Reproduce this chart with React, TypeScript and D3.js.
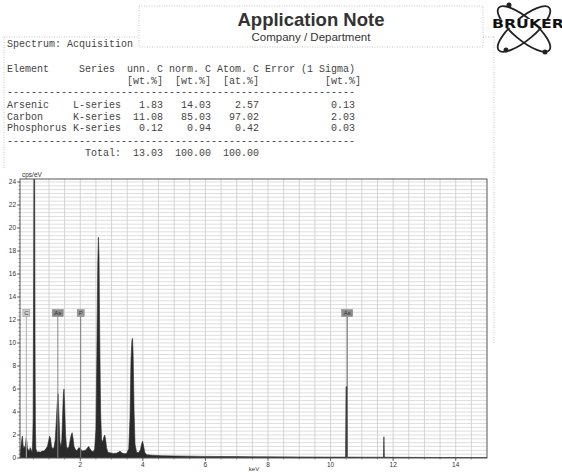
import React from "react";
import * as d3 from "d3";

// ---------- Data ----------
const titleText = "Application Note";
const subtitleText = "Company / Department";
const spectrumName = "Spectrum: Acquisition";

const elements = ["Arsenic", "Carbon", "Phosphorus"];
const seriesNames = ["L-series", "K-series", "K-series"];
const unnC = ["1.83", "11.08", "0.12"];
const normC = ["14.03", "85.03", "0.94"];
const atomC = ["2.57", "97.02", "0.42"];
const errSigma = ["0.13", "2.03", "0.03"];
const totals = ["13.03", "100.00", "100.00"];

// spectrum: [keV, cps/eV]
const spectrum: [number, number][] = [
  [0.07, 0.3], [0.1, 0.9], [0.13, 1.6], [0.15, 1.9], [0.17, 1.2], [0.19, 0.8],
  [0.21, 1.0], [0.23, 0.8], [0.25, 1.2], [0.27, 1.7], [0.29, 1.5], [0.31, 0.9],
  [0.34, 0.7], [0.37, 0.6], [0.4, 0.9], [0.43, 0.7], [0.46, 0.5], [0.48, 1.5],
  [0.495, 3.5], [0.505, 12], [0.512, 17], [0.52, 25], [0.54, 25], [0.548, 17],
  [0.556, 8], [0.566, 2.5], [0.58, 0.8], [0.62, 0.5], [0.67, 0.55], [0.72, 0.5],
  [0.78, 0.6], [0.84, 0.6], [0.9, 0.8], [0.95, 1.0], [0.99, 1.5], [1.02, 1.9],
  [1.05, 1.7], [1.08, 1.0], [1.12, 0.8], [1.16, 0.9], [1.2, 1.6], [1.23, 3.0],
  [1.26, 4.6], [1.29, 5.6], [1.32, 3.6], [1.35, 1.4], [1.38, 1.0], [1.41, 1.6],
  [1.44, 4.0], [1.46, 5.6], [1.48, 6.0], [1.5, 4.6], [1.53, 2.0], [1.56, 1.0],
  [1.6, 0.8], [1.64, 1.0], [1.68, 1.6], [1.71, 2.0], [1.74, 2.2], [1.77, 1.7],
  [1.8, 1.0], [1.85, 0.7], [1.9, 0.65], [1.95, 0.9], [1.99, 0.85], [2.03, 0.7],
  [2.08, 0.6], [2.13, 0.65], [2.18, 0.7], [2.23, 0.9], [2.27, 1.0], [2.31, 0.8],
  [2.36, 0.6], [2.42, 0.55], [2.46, 0.8], [2.5, 2.5], [2.53, 9], [2.56, 17],
  [2.58, 19.2], [2.6, 17.5], [2.62, 11], [2.65, 4], [2.68, 1.6], [2.72, 1.4],
  [2.75, 1.8], [2.78, 2.0], [2.81, 1.6], [2.84, 0.9], [2.88, 0.5], [2.95, 0.45],
  [3.05, 0.4], [3.15, 0.42], [3.22, 0.5], [3.27, 0.6], [3.32, 0.45], [3.4, 0.38],
  [3.48, 0.4], [3.55, 0.8], [3.59, 3.5], [3.62, 8.5], [3.65, 10.2], [3.67, 10.4],
  [3.69, 9], [3.72, 4], [3.75, 1.2], [3.8, 0.5], [3.86, 0.45], [3.92, 0.7],
  [3.96, 1.2], [3.99, 1.45], [4.02, 1.1], [4.06, 0.5], [4.12, 0.28], [4.3, 0.24],
  [4.6, 0.2], [5.0, 0.18], [5.5, 0.16], [6.0, 0.14], [6.5, 0.13], [7.0, 0.12],
  [7.5, 0.11], [8.0, 0.1], [9.0, 0.09], [10.0, 0.08], [10.48, 0.08], [10.495, 6.2],
  [10.525, 6.2], [10.54, 0.08], [11.0, 0.07], [11.69, 0.07], [11.705, 1.85],
  [11.72, 0.07], [12.0, 0.06], [13.0, 0.05], [14.0, 0.04], [15.0, 0.03],
];

const markerLabels = ["C", "As", "P", "As"];
const markerEnergies = [0.277, 1.282, 2.013, 10.532];
const markerLineColors = ["#b0b0b0", "#8a8a8a", "#7a7a7a", "#6a6a6a"];
const markerBoxColors = ["#cfcfcf", "#8c8c8c", "#9a9a9a", "#8c8c8c"];

const xTickValues = [2, 4, 6, 8, 10, 12, 14];
const yTickValues = [0, 2, 4, 6, 8, 10, 12, 14, 16, 18, 20, 22, 24];

// ---------- Layout ----------
const W = 562;
const H = 472;
const plotL = 20;
const plotR = 487;
const plotT = 179;
const plotB = 458;

export default function App() {
  const x = d3.scaleLinear().domain([0, 15]).range([17.7, 487]);
  const y = d3.scaleLinear().domain([0, 24.26]).range([plotB, plotT]);

  const area = d3
    .area<[number, number]>()
    .x((d) => x(d[0]))
    .y0(y(0))
    .y1((d) => y(d[1]));

  const vGrid = d3.range(0.5, 15, 0.5);
  const hGrid = d3.range(1, 73).map((i) => (i * 1) / 3);

  const mono = "'Liberation Mono', 'DejaVu Sans Mono', monospace";
  const sans = "'Liberation Sans', Arial, sans-serif";

  const tableLines: { text: string; y: number }[] = [];
  tableLines.push({ text: spectrumName, y: 47 });
  tableLines.push({
    text: "Element     Series  unn. C norm. C Atom. C Error (1 Sigma)",
    y: 72,
  });
  tableLines.push({
    text: "                    [wt.%]  [wt.%]  [at.%]           [wt.%]",
    y: 83.5,
  });
  tableLines.push({ text: "-".repeat(58), y: 94.5 });
  const rowYs = [108, 119.5, 131];
  elements.forEach((el, i) => {
    tableLines.push({
      text:
        el.padEnd(11) +
        seriesNames[i] +
        unnC[i].padStart(7) +
        normC[i].padStart(8) +
        atomC[i].padStart(8) +
        errSigma[i].padStart(16),
      y: rowYs[i],
    });
  });
  tableLines.push({ text: "-".repeat(58), y: 143.5 });
  tableLines.push({
    text:
      " ".repeat(13) +
      "Total:" +
      totals[0].padStart(7) +
      totals[1].padStart(8) +
      totals[2].padStart(8),
    y: 156,
  });

  const dot = { stroke: "#b5b5b5", strokeWidth: 0.8, strokeDasharray: "1,1.5", fill: "none" };

  return (
    <svg
      width={W}
      height={H}
      style={{ position: "absolute", left: 0, top: 0, background: "#fff" }}
    >
      <rect x={0} y={0} width={W} height={H} fill="#fff" />
      {/* outer dotted page box */}
      <line x1={4} y1={37} x2={139} y2={37} {...dot} />
      <line x1={483} y1={37} x2={494} y2={37} {...dot} />
      <line x1={4} y1={37} x2={4} y2={168} {...dot} />
      <line x1={494} y1={37} x2={494} y2={343} {...dot} />

      {/* header box */}
      <rect x={139} y={6} width={344} height={41} fill="#fff" {...dot} />
      <text
        x={311}
        y={26}
        textAnchor="middle"
        fontFamily={sans}
        fontWeight="bold"
        fontSize={18.5}
        fill="#333"
      >
        {titleText}
      </text>
      <text
        x={311}
        y={41}
        textAnchor="middle"
        fontFamily={sans}
        fontSize={11.5}
        fill="#333"
      >
        {subtitleText}
      </text>

      {/* logo */}
      <g fill="none" stroke="#222" strokeWidth={1.8}>
        <ellipse cx={524} cy={29} rx={33} ry={11} transform="rotate(40 524 29)" />
        <ellipse cx={524} cy={29} rx={33} ry={11} transform="rotate(-40 524 29)" />
      </g>
      <g fill="#222">
        <circle cx={509} cy={5} r={2.5} />
        <circle cx={506} cy={50} r={2.5} />
        <circle cx={545} cy={52} r={2.5} />
      </g>
      <rect x={492} y={19} width={70} height={9} fill="#fff" />
      <text
        x={492}
        y={27.5}
        fontFamily="'DejaVu Sans', sans-serif"
        fontWeight="bold"
        fontSize={11.5}
        fill="#111"
        textLength={72}
        lengthAdjust="spacingAndGlyphs"
      >
        BRUKER
      </text>

      {/* table text */}
      {tableLines.map((l, i) => (
        <text
          key={i}
          x={7}
          y={l.y}
          fontFamily={mono}
          fontSize={10}
          fill="#444"
          style={{ whiteSpace: "pre" }}
        >
          {l.text}
        </text>
      ))}

      {/* plot */}
      <defs>
        <clipPath id="plotclip">
          <rect x={plotL} y={plotT} width={plotR - plotL} height={plotB - plotT} />
        </clipPath>
      </defs>
      <g>
        {hGrid.map((v, i) => (
          <line
            key={"h" + i}
            x1={plotL}
            x2={plotR}
            y1={y(v)}
            y2={y(v)}
            stroke="#d6d6d6"
            strokeWidth={0.8}
          />
        ))}
        {vGrid.map((v, i) => (
          <line
            key={"v" + i}
            x1={x(v)}
            x2={x(v)}
            y1={plotT}
            y2={plotB}
            stroke="#cfcfcf"
            strokeWidth={0.9}
          />
        ))}
      </g>

      <g clipPath="url(#plotclip)">
        <path d={area(spectrum) || ""} fill="#2a2a2a" stroke="#2a2a2a" strokeWidth={0.6} />
        {markerEnergies.map((e, i) => (
          <line
            key={"m" + i}
            x1={x(e)}
            x2={x(e)}
            y1={y(0)}
            y2={y(12.3)}
            stroke={markerLineColors[i]}
            strokeWidth={1}
          />
        ))}
      </g>

      {markerEnergies.map((e, i) => {
        const w = markerLabels[i].length > 1 ? 11 : 7;
        return (
          <g key={"lb" + i}>
            <rect
              x={x(e) - w / 2}
              y={y(12.3) - 7}
              width={w}
              height={7}
              fill={markerBoxColors[i]}
              stroke="#777"
              strokeWidth={0.4}
            />
            <text
              x={x(e)}
              y={y(12.3) - 1.4}
              textAnchor="middle"
              fontFamily={sans}
              fontSize={6}
              fill="#333"
            >
              {markerLabels[i]}
            </text>
          </g>
        );
      })}

      {/* frame */}
      <rect
        x={plotL}
        y={plotT}
        width={plotR - plotL}
        height={plotB - plotT}
        fill="none"
        stroke="#555"
        strokeWidth={1}
      />

      {/* y axis ticks */}
      {hGrid.concat([0]).map((v, i) => (
        <line
          key={"ym" + i}
          x1={plotL - 1.5}
          x2={plotL}
          y1={y(v)}
          y2={y(v)}
          stroke="#555"
          strokeWidth={0.6}
        />
      ))}
      {yTickValues.map((v) => (
        <g key={"yt" + v}>
          <line x1={plotL - 3} x2={plotL} y1={y(v)} y2={y(v)} stroke="#555" strokeWidth={0.8} />
          <text
            x={plotL - 4}
            y={y(v)}
            dy="0.35em"
            textAnchor="end"
            fontFamily={sans}
            fontSize={6.5}
            fill="#333"
          >
            {v}
          </text>
        </g>
      ))}
      <text x={22} y={177} fontFamily={sans} fontSize={6.5} fill="#333">
        cps/eV
      </text>

      {/* x axis ticks */}
      {vGrid.map((v, i) => (
        <line
          key={"xm" + i}
          x1={x(v)}
          x2={x(v)}
          y1={plotB}
          y2={plotB + 1.5}
          stroke="#555"
          strokeWidth={0.6}
        />
      ))}
      {xTickValues.map((v) => (
        <g key={"xt" + v}>
          <line x1={x(v)} x2={x(v)} y1={plotB} y2={plotB + 3} stroke="#555" strokeWidth={0.8} />
          <text
            x={x(v)}
            y={plotB + 8.5}
            textAnchor="middle"
            fontFamily={sans}
            fontSize={6.5}
            fill="#333"
          >
            {v}
          </text>
        </g>
      ))}
      <text x={254} y={470.5} textAnchor="middle" fontFamily={sans} fontSize={6} fill="#333">
        keV
      </text>
    </svg>
  );
}
